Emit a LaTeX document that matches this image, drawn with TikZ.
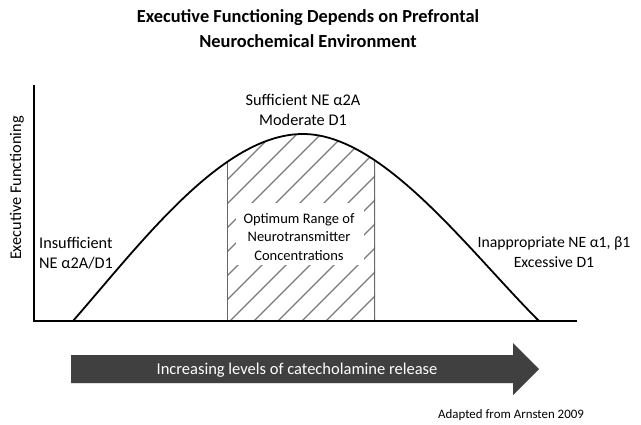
\documentclass[tikz,border=0pt]{standalone}
\usepackage{fontspec}
\setmainfont{Carlito}
\definecolor{arrowgray}{HTML}{404040}
\definecolor{hatchgray}{HTML}{7A7A7A}
\begin{document}
\begin{tikzpicture}[x=1pt,y=-1pt,
  titletext/.style={font={\fontsize{18.4}{22}\selectfont\bfseries}, inner sep=0pt},
  lbl/.style={font={\fontsize{16.3}{19.5}\selectfont}, inner sep=0pt},
  axisline/.style={line width=2pt, black},
  curveline/.style={line width=1.8pt, black},
  hatchline/.style={line width=1.1pt, hatchgray},
  edgeline/.style={line width=1.4pt, hatchgray!85!black},
  arrowbody/.style={fill=arrowgray},
  arrowtext/.style={font={\fontsize{16.5}{20}\selectfont}, text=white, inner sep=0pt},
  smalltext/.style={font={\fontsize{12.9}{15}\selectfont}, inner sep=0pt}
]
\useasboundingbox (0,0) rectangle (641,424);

% title
\node[titletext] (title1) at (308,18) {Executive Functioning Depends on Prefrontal};
\node[titletext] (title2) at (308,41) {Neurochemical Environment};

% axes
\coordinate (ytop) at (34,85);
\coordinate (orig) at (34,321);
\coordinate (xend) at (577,321);

% curve points
\coordinate (c0) at (73,321);
\coordinate (cpk) at (303,134);
\coordinate (c1) at (539,321);

% hatched region
\begin{scope}
  \clip (c0) .. controls (143,240.5) and (223,134) .. (cpk) .. controls (383,134) and (469,251) .. (c1) -- cycle;
  \clip (227,80) rectangle (375,330);
  \foreach \k in {0,...,14} {
    \draw[hatchline] (62+24*\k,321) -- ++(220,-220);
  }
  \draw[edgeline] (227,330) -- (227,100);
  \draw[edgeline] (375,330) -- (375,100);
\end{scope}

\draw[curveline] (c0) .. controls (143,240.5) and (223,134) .. (cpk) .. controls (383,134) and (469,251) .. (c1);
\draw[axisline] (ytop) -- (orig) -- (xend);

% labels
\node[lbl, rotate=90] (ylab) at (17,188) {Executive Functioning};
\node[lbl, align=center] (suff) at (303,110) {Sufficient NE α2A\\Moderate D1};
\node[lbl, align=left, anchor=west] (insuff) at (39,253) {Insufficient\\NE α2A/D1};
\node[lbl, align=center, font={\fontsize{15.7}{19.5}\selectfont}] (inapp) at (554,252) {Inappropriate NE α1, β1\\Excessive D1};
\node[fill=white, minimum width=128pt, minimum height=62pt, inner sep=0pt] (optbg) at (300,234) {};
\node[lbl, align=center, font={\fontsize{14.5}{18.5}\selectfont}] (optim) at (299,237) {Optimum Range of\\Neurotransmitter\\Concentrations};

% arrow
\coordinate (a1) at (71,355);
\coordinate (a2) at (513,355);
\coordinate (a3) at (513,343);
\coordinate (atip) at (539,369);
\coordinate (a4) at (513,395);
\coordinate (a5) at (513,383);
\coordinate (a6) at (71,383);
\fill[black!25, xshift=1pt, yshift=-1.5pt] (a1) -- (a2) -- (a3) -- (atip) -- (a4) -- (a5) -- (a6) -- cycle;
\fill[arrowbody] (a1) -- (a2) -- (a3) -- (atip) -- (a4) -- (a5) -- (a6) -- cycle;
\node[arrowtext] (arrowlabel) at (297,370) {Increasing levels of catecholamine release};

\node[smalltext] (credit) at (511,415) {Adapted from Arnsten 2009};
\end{tikzpicture}
\end{document}
